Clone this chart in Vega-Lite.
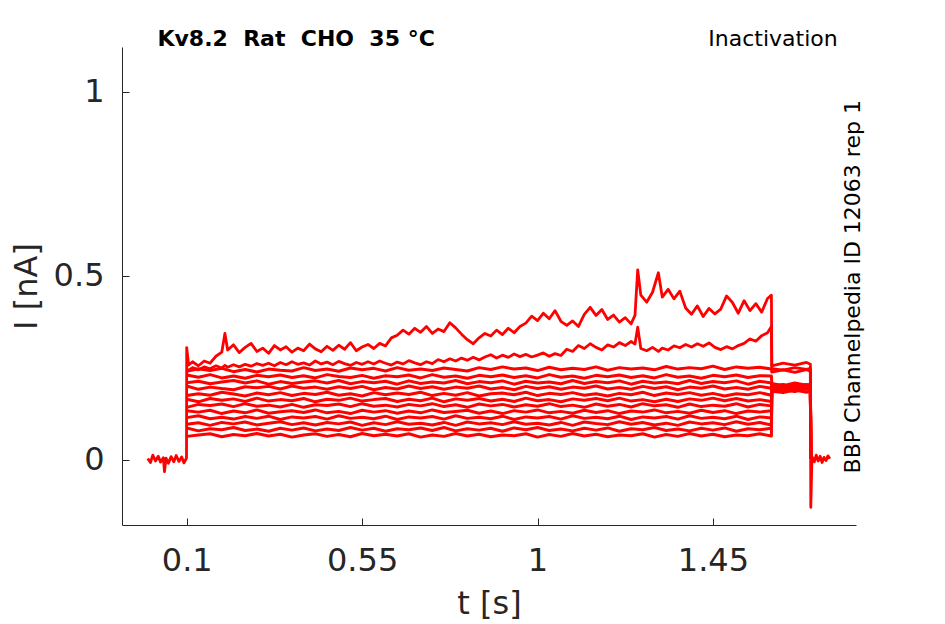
{
  "$schema": "https://vega.github.io/schema/vega-lite/v6.json",
  "width": 734,
  "height": 478,
  "autosize": "none",
  "padding": {"left": 122, "top": 47, "right": 89, "bottom": 99},
  "background": "#ffffff",
  "config": {
    "view": {"stroke": null},
    "font": "DejaVu Sans",
    "axis": {
      "grid": false,
      "labelFont": "DejaVu Sans",
      "titleFont": "DejaVu Sans",
      "labelFontSize": 32,
      "titleFontSize": 32,
      "titleFontWeight": "normal",
      "domainColor": "#262626",
      "tickColor": "#262626",
      "labelColor": "#262626",
      "titleColor": "#262626",
      "domainWidth": 1,
      "tickWidth": 1,
      "tickSize": -7,
      "labelFlush": false,
      "labelOverlap": false,
      "format": ".3~g"
    }
  },
  "datasets": {
    "lo": [
      {"t":0.10,"c":0.240,"d":0.230,"e":0.209,"f":0.200,"g":0.174,"h":0.164,"i":0.142,"j":0.133,"k":0.114,"l":0.096,"m":0.086,"n":0.063},
      {"t":0.13,"c":0.247,"d":0.224,"e":0.213,"f":0.191,"g":0.179,"h":0.157,"i":0.150,"j":0.129,"k":0.119,"l":0.100,"m":0.078,"n":0.067},
      {"t":0.16,"c":0.242,"d":0.231,"e":0.206,"f":0.197,"g":0.175,"h":0.166,"i":0.147,"j":0.134,"k":0.111,"l":0.093,"m":0.084,"n":0.070},
      {"t":0.19,"c":0.248,"d":0.222,"e":0.211,"f":0.193,"g":0.183,"h":0.161,"i":0.151,"j":0.125,"k":0.115,"l":0.101,"m":0.081,"n":0.062},
      {"t":0.22,"c":0.239,"d":0.227,"e":0.215,"f":0.190,"g":0.178,"h":0.165,"i":0.144,"j":0.132,"k":0.110,"l":0.097,"m":0.087,"n":0.068},
      {"t":0.25,"c":0.245,"d":0.221,"e":0.208,"f":0.198,"g":0.173,"h":0.158,"i":0.152,"j":0.127,"k":0.117,"l":0.102,"m":0.079,"n":0.065},
      {"t":0.28,"c":0.238,"d":0.229,"e":0.214,"f":0.195,"g":0.181,"h":0.167,"i":0.145,"j":0.135,"k":0.112,"l":0.094,"m":0.083,"n":0.071},
      {"t":0.31,"c":0.246,"d":0.225,"e":0.205,"f":0.199,"g":0.176,"h":0.159,"i":0.148,"j":0.126,"k":0.118,"l":0.099,"m":0.077,"n":0.064},
      {"t":0.34,"c":0.243,"d":0.230,"e":0.212,"f":0.192,"g":0.182,"h":0.163,"i":0.143,"j":0.130,"k":0.109,"l":0.103,"m":0.085,"n":0.069},
      {"t":0.37,"c":0.241,"d":0.223,"e":0.207,"f":0.200,"g":0.174,"h":0.160,"i":0.150,"j":0.133,"k":0.116,"l":0.095,"m":0.080,"n":0.061},
      {"t":0.40,"c":0.250,"d":0.228,"e":0.211,"f":0.194,"g":0.180,"h":0.166,"i":0.142,"j":0.128,"k":0.113,"l":0.100,"m":0.086,"n":0.067},
      {"t":0.43,"c":0.242,"d":0.222,"e":0.214,"f":0.197,"g":0.177,"h":0.157,"i":0.149,"j":0.135,"k":0.117,"l":0.094,"m":0.078,"n":0.070},
      {"t":0.46,"c":0.246,"d":0.231,"e":0.208,"f":0.191,"g":0.183,"h":0.164,"i":0.147,"j":0.127,"k":0.110,"l":0.101,"m":0.083,"n":0.063},
      {"t":0.49,"c":0.240,"d":0.226,"e":0.215,"f":0.198,"g":0.175,"h":0.161,"i":0.151,"j":0.131,"k":0.119,"l":0.097,"m":0.079,"n":0.068},
      {"t":0.52,"c":0.249,"d":0.223,"e":0.206,"f":0.193,"g":0.179,"h":0.167,"i":0.144,"j":0.125,"k":0.112,"l":0.102,"m":0.087,"n":0.062},
      {"t":0.55,"c":0.244,"d":0.229,"e":0.212,"f":0.199,"g":0.173,"h":0.159,"i":0.152,"j":0.134,"k":0.115,"l":0.093,"m":0.080,"n":0.071},
      {"t":0.58,"c":0.248,"d":0.221,"e":0.209,"f":0.190,"g":0.182,"h":0.163,"i":0.145,"j":0.129,"k":0.111,"l":0.100,"m":0.085,"n":0.065},
      {"t":0.61,"c":0.241,"d":0.228,"e":0.213,"f":0.196,"g":0.176,"h":0.166,"i":0.148,"j":0.133,"k":0.118,"l":0.095,"m":0.077,"n":0.069},
      {"t":0.64,"c":0.250,"d":0.225,"e":0.205,"f":0.192,"g":0.181,"h":0.158,"i":0.143,"j":0.126,"k":0.109,"l":0.103,"m":0.084,"n":0.064},
      {"t":0.67,"c":0.243,"d":0.230,"e":0.214,"f":0.200,"g":0.177,"h":0.164,"i":0.150,"j":0.132,"k":0.116,"l":0.096,"m":0.081,"n":0.070},
      {"t":0.70,"c":0.246,"d":0.222,"e":0.207,"f":0.193,"g":0.183,"h":0.160,"i":0.146,"j":0.127,"k":0.113,"l":0.099,"m":0.086,"n":0.061},
      {"t":0.73,"c":0.242,"d":0.231,"e":0.211,"f":0.198,"g":0.174,"h":0.167,"i":0.152,"j":0.135,"k":0.117,"l":0.094,"m":0.079,"n":0.067},
      {"t":0.76,"c":0.249,"d":0.224,"e":0.208,"f":0.191,"g":0.180,"h":0.157,"i":0.144,"j":0.128,"k":0.110,"l":0.101,"m":0.087,"n":0.063},
      {"t":0.79,"c":0.245,"d":0.227,"e":0.215,"f":0.197,"g":0.175,"h":0.165,"i":0.149,"j":0.131,"k":0.119,"l":0.093,"m":0.078,"n":0.071},
      {"t":0.82,"c":0.241,"d":0.221,"e":0.206,"f":0.194,"g":0.182,"h":0.161,"i":0.142,"j":0.134,"k":0.112,"l":0.102,"m":0.084,"n":0.064},
      {"t":0.85,"c":0.250,"d":0.229,"e":0.212,"f":0.200,"g":0.173,"h":0.166,"i":0.151,"j":0.126,"k":0.115,"l":0.097,"m":0.080,"n":0.069},
      {"t":0.88,"c":0.245,"d":0.225,"e":0.209,"f":0.192,"g":0.179,"h":0.159,"i":0.146,"j":0.132,"k":0.111,"l":0.100,"m":0.085,"n":0.062},
      {"t":0.91,"c":0.252,"d":0.230,"e":0.214,"f":0.196,"g":0.181,"h":0.164,"i":0.150,"j":0.125,"k":0.118,"l":0.095,"m":0.077,"n":0.067},
      {"t":0.94,"c":0.246,"d":0.223,"e":0.205,"f":0.190,"g":0.176,"h":0.158,"i":0.143,"j":0.133,"k":0.109,"l":0.103,"m":0.086,"n":0.065},
      {"t":0.97,"c":0.249,"d":0.228,"e":0.213,"f":0.199,"g":0.183,"h":0.167,"i":0.149,"j":0.129,"k":0.116,"l":0.096,"m":0.081,"n":0.070},
      {"t":1.00,"c":0.242,"d":0.222,"e":0.208,"f":0.193,"g":0.174,"h":0.160,"i":0.145,"j":0.135,"k":0.113,"l":0.099,"m":0.087,"n":0.061},
      {"t":1.03,"c":0.251,"d":0.231,"e":0.211,"f":0.198,"g":0.180,"h":0.163,"i":0.152,"j":0.127,"k":0.117,"l":0.094,"m":0.079,"n":0.068},
      {"t":1.06,"c":0.244,"d":0.224,"e":0.206,"f":0.191,"g":0.177,"h":0.157,"i":0.144,"j":0.131,"k":0.110,"l":0.101,"m":0.083,"n":0.063},
      {"t":1.09,"c":0.248,"d":0.227,"e":0.215,"f":0.197,"g":0.182,"h":0.165,"i":0.148,"j":0.126,"k":0.119,"l":0.093,"m":0.078,"n":0.071},
      {"t":1.12,"c":0.245,"d":0.221,"e":0.207,"f":0.194,"g":0.175,"h":0.161,"i":0.142,"j":0.134,"k":0.112,"l":0.102,"m":0.085,"n":0.064},
      {"t":1.15,"c":0.252,"d":0.229,"e":0.212,"f":0.200,"g":0.179,"h":0.166,"i":0.151,"j":0.128,"k":0.115,"l":0.098,"m":0.080,"n":0.069},
      {"t":1.18,"c":0.243,"d":0.225,"e":0.209,"f":0.192,"g":0.173,"h":0.160,"i":0.145,"j":0.133,"k":0.111,"l":0.095,"m":0.086,"n":0.062},
      {"t":1.21,"c":0.250,"d":0.230,"e":0.214,"f":0.196,"g":0.180,"h":0.167,"i":0.150,"j":0.125,"k":0.118,"l":0.103,"m":0.077,"n":0.067},
      {"t":1.24,"c":0.246,"d":0.223,"e":0.205,"f":0.191,"g":0.176,"h":0.159,"i":0.143,"j":0.132,"k":0.109,"l":0.096,"m":0.084,"n":0.065},
      {"t":1.27,"c":0.249,"d":0.228,"e":0.213,"f":0.199,"g":0.183,"h":0.163,"i":0.152,"j":0.129,"k":0.116,"l":0.101,"m":0.081,"n":0.070},
      {"t":1.30,"c":0.244,"d":0.222,"e":0.208,"f":0.193,"g":0.174,"h":0.157,"i":0.146,"j":0.135,"k":0.113,"l":0.094,"m":0.087,"n":0.061},
      {"t":1.33,"c":0.253,"d":0.231,"e":0.211,"f":0.198,"g":0.181,"h":0.164,"i":0.149,"j":0.127,"k":0.117,"l":0.099,"m":0.079,"n":0.068},
      {"t":1.36,"c":0.246,"d":0.224,"e":0.206,"f":0.190,"g":0.177,"h":0.158,"i":0.142,"j":0.131,"k":0.110,"l":0.093,"m":0.083,"n":0.063},
      {"t":1.39,"c":0.250,"d":0.227,"e":0.215,"f":0.197,"g":0.182,"h":0.165,"i":0.151,"j":0.126,"k":0.119,"l":0.102,"m":0.078,"n":0.071},
      {"t":1.42,"c":0.247,"d":0.221,"e":0.207,"f":0.194,"g":0.175,"h":0.161,"i":0.144,"j":0.134,"k":0.112,"l":0.097,"m":0.085,"n":0.064},
      {"t":1.45,"c":0.254,"d":0.229,"e":0.212,"f":0.200,"g":0.180,"h":0.167,"i":0.148,"j":0.128,"k":0.115,"l":0.100,"m":0.080,"n":0.069},
      {"t":1.48,"c":0.245,"d":0.225,"e":0.209,"f":0.192,"g":0.173,"h":0.160,"i":0.145,"j":0.133,"k":0.111,"l":0.095,"m":0.086,"n":0.062},
      {"t":1.51,"c":0.252,"d":0.230,"e":0.214,"f":0.196,"g":0.179,"h":0.166,"i":0.152,"j":0.125,"k":0.118,"l":0.103,"m":0.077,"n":0.067},
      {"t":1.54,"c":0.248,"d":0.223,"e":0.205,"f":0.191,"g":0.176,"h":0.159,"i":0.143,"j":0.132,"k":0.109,"l":0.096,"m":0.084,"n":0.065},
      {"t":1.57,"c":0.251,"d":0.228,"e":0.213,"f":0.199,"g":0.182,"h":0.163,"i":0.150,"j":0.129,"k":0.116,"l":0.101,"m":0.081,"n":0.070},
      {"t":1.60,"c":0.246,"d":0.227,"e":0.208,"f":0.194,"g":0.175,"h":0.158,"i":0.146,"j":0.133,"k":0.113,"l":0.094,"m":0.085,"n":0.064},
      {"t":1.601,"c":0.238,"d":0.207,"e":0.199,"f":0.194,"g":0.197,"h":0.188,"i":0.205,"j":0.184,"k":0.199,"l":0.200,"m":0.190,"n":0.186},
      {"t":1.63,"c":0.244,"d":0.201,"e":0.203,"f":0.199,"g":0.190,"h":0.195,"i":0.199,"j":0.190,"k":0.192,"l":0.204,"m":0.196,"n":0.182},
      {"t":1.66,"c":0.237,"d":0.208,"e":0.196,"f":0.192,"g":0.198,"h":0.186,"i":0.206,"j":0.185,"k":0.200,"l":0.195,"m":0.189,"n":0.189},
      {"t":1.69,"c":0.245,"d":0.202,"e":0.204,"f":0.201,"g":0.191,"h":0.194,"i":0.200,"j":0.193,"k":0.193,"l":0.203,"m":0.197,"n":0.183},
      {"t":1.70,"c":0.240,"d":0.205,"e":0.200,"f":0.196,"g":0.194,"h":0.191,"i":0.202,"j":0.189,"k":0.196,"l":0.199,"m":0.193,"n":0.186},
      {"t":1.701,"c":0.003,"d":0.004,"e":0.002,"f":0.003,"g":0.005,"h":0.002,"i":0.004,"j":0.003,"k":0.002,"l":0.004,"m":0.003,"n":0.005}
    ],
    "hi": [
      {"t":0,"a":0.003},{"t":0.007,"a":-0.008},{"t":0.013,"a":0.012},{"t":0.02,"a":-0.004},
      {"t":0.027,"a":0.009},{"t":0.033,"a":-0.007},{"t":0.04,"a":0.005},{"t":0.043,"a":-0.033},
      {"t":0.047,"a":0.004},{"t":0.053,"a":-0.01},{"t":0.06,"a":0.008},{"t":0.067,"a":-0.006},
      {"t":0.073,"a":0.011},{"t":0.08,"a":-0.005},{"t":0.087,"a":0.007},{"t":0.093,"a":-0.009},
      {"t":0.0995,"a":0.004},
      {"t":0.100,"a":0.304,"b":0.246},{"t":0.105,"a":0.257,"b":0.243},{"t":0.115,"a":0.266,"b":0.250},
      {"t":0.130,"a":0.255,"b":0.244},{"t":0.145,"a":0.268,"b":0.252},{"t":0.160,"a":0.262,"b":0.247},
      {"t":0.175,"a":0.281,"b":0.255},{"t":0.190,"a":0.292,"b":0.249},{"t":0.198,"a":0.343,"b":0.256},
      {"t":0.205,"a":0.298,"b":0.251},{"t":0.220,"a":0.312,"b":0.258},{"t":0.235,"a":0.291,"b":0.252},
      {"t":0.250,"a":0.305,"b":0.259},{"t":0.265,"a":0.316,"b":0.254},{"t":0.280,"a":0.294,"b":0.261},
      {"t":0.295,"a":0.303,"b":0.256},{"t":0.310,"a":0.289,"b":0.262},{"t":0.325,"a":0.310,"b":0.255},
      {"t":0.340,"a":0.298,"b":0.264},{"t":0.355,"a":0.307,"b":0.258},{"t":0.370,"a":0.292,"b":0.266},
      {"t":0.385,"a":0.303,"b":0.259},{"t":0.400,"a":0.296,"b":0.263},{"t":0.415,"a":0.314,"b":0.257},
      {"t":0.430,"a":0.301,"b":0.268},{"t":0.445,"a":0.293,"b":0.260},{"t":0.460,"a":0.308,"b":0.265},
      {"t":0.475,"a":0.297,"b":0.258},{"t":0.490,"a":0.311,"b":0.267},{"t":0.505,"a":0.300,"b":0.261},
      {"t":0.520,"a":0.318,"b":0.256},{"t":0.535,"a":0.296,"b":0.264},{"t":0.550,"a":0.306,"b":0.259},
      {"t":0.565,"a":0.313,"b":0.266},{"t":0.580,"a":0.302,"b":0.260},{"t":0.595,"a":0.316,"b":0.268},
      {"t":0.610,"a":0.309,"b":0.262},{"t":0.625,"a":0.331,"b":0.257},{"t":0.640,"a":0.338,"b":0.265},
      {"t":0.655,"a":0.352,"b":0.260},{"t":0.670,"a":0.341,"b":0.269},{"t":0.685,"a":0.357,"b":0.263},
      {"t":0.700,"a":0.346,"b":0.258},{"t":0.715,"a":0.362,"b":0.266},{"t":0.730,"a":0.343,"b":0.261},
      {"t":0.745,"a":0.355,"b":0.272},{"t":0.760,"a":0.348,"b":0.266},{"t":0.775,"a":0.372,"b":0.274},
      {"t":0.790,"a":0.358,"b":0.268},{"t":0.805,"a":0.341,"b":0.276},{"t":0.820,"a":0.326,"b":0.270},
      {"t":0.835,"a":0.315,"b":0.278},{"t":0.850,"a":0.331,"b":0.271},{"t":0.865,"a":0.343,"b":0.279},
      {"t":0.880,"a":0.336,"b":0.285},{"t":0.895,"a":0.352,"b":0.276},{"t":0.910,"a":0.340,"b":0.284},
      {"t":0.925,"a":0.357,"b":0.278},{"t":0.940,"a":0.345,"b":0.287},{"t":0.955,"a":0.362,"b":0.280},
      {"t":0.970,"a":0.371,"b":0.286},{"t":0.985,"a":0.390,"b":0.279},{"t":1.000,"a":0.378,"b":0.284},
      {"t":1.015,"a":0.398,"b":0.290},{"t":1.030,"a":0.383,"b":0.281},{"t":1.045,"a":0.405,"b":0.288},
      {"t":1.060,"a":0.376,"b":0.283},{"t":1.075,"a":0.365,"b":0.300},{"t":1.090,"a":0.377,"b":0.294},
      {"t":1.105,"a":0.362,"b":0.310},{"t":1.120,"a":0.395,"b":0.302},{"t":1.135,"a":0.414,"b":0.315},
      {"t":1.150,"a":0.392,"b":0.305},{"t":1.165,"a":0.408,"b":0.298},{"t":1.180,"a":0.381,"b":0.312},
      {"t":1.195,"a":0.393,"b":0.306},{"t":1.210,"a":0.374,"b":0.318},{"t":1.225,"a":0.386,"b":0.310},
      {"t":1.240,"a":0.369,"b":0.321},{"t":1.250,"a":0.392,"b":0.314},{"t":1.257,"a":0.516,"b":0.360},
      {"t":1.265,"a":0.447,"b":0.302},{"t":1.280,"a":0.428,"b":0.296},{"t":1.295,"a":0.455,"b":0.305},
      {"t":1.310,"a":0.508,"b":0.294},{"t":1.320,"a":0.442,"b":0.303},{"t":1.335,"a":0.463,"b":0.298},
      {"t":1.350,"a":0.437,"b":0.309},{"t":1.365,"a":0.458,"b":0.304},{"t":1.380,"a":0.412,"b":0.313},
      {"t":1.395,"a":0.395,"b":0.306},{"t":1.410,"a":0.418,"b":0.315},{"t":1.425,"a":0.389,"b":0.308},
      {"t":1.440,"a":0.411,"b":0.317},{"t":1.455,"a":0.396,"b":0.305},{"t":1.470,"a":0.409,"b":0.299},
      {"t":1.485,"a":0.445,"b":0.307},{"t":1.500,"a":0.427,"b":0.301},{"t":1.515,"a":0.398,"b":0.310},
      {"t":1.530,"a":0.432,"b":0.316},{"t":1.545,"a":0.405,"b":0.328},{"t":1.560,"a":0.424,"b":0.322},
      {"t":1.575,"a":0.401,"b":0.337},{"t":1.590,"a":0.438,"b":0.345},{"t":1.600,"a":0.447,"b":0.362},
      {"t":1.601,"a":0.255,"b":0.247},{"t":1.630,"a":0.262,"b":0.243},{"t":1.660,"a":0.257,"b":0.250},
      {"t":1.690,"a":0.264,"b":0.245},{"t":1.700,"a":0.259,"b":0.248},{"t":1.701,"a":-0.13,"b":0.003},
      {"t":1.704,"a":0.008},{"t":1.71,"a":-0.006},{"t":1.715,"a":0.012},{"t":1.72,"a":-0.004},
      {"t":1.725,"a":0.009},{"t":1.73,"a":-0.008},{"t":1.735,"a":0.006},{"t":1.74,"a":-0.003},
      {"t":1.745,"a":0.01},{"t":1.75,"a":0.002}
    ]
  },
  "encoding": {
    "x": {
      "field": "t",
      "type": "quantitative",
      "scale": {"domain": [-0.066, 1.817], "nice": false, "zero": false},
      "axis": {"title": "t [s]", "values": [0.1, 0.55, 1, 1.45], "labelPadding": 27, "titlePadding": 12}
    },
    "y": {
      "field": "i",
      "type": "quantitative",
      "scale": {"domain": [-0.178, 1.122], "nice": false, "zero": false},
      "axis": {"title": "I [nA]", "values": [0, 0.5, 1], "labelPadding": 25, "titlePadding": 10}
    }
  },
  "layer": [
    {
      "data": {"name": "lo"},
      "transform": [
        {"fold": ["c", "d", "e", "f", "g", "h", "i", "j", "k", "l", "m", "n"], "as": ["s", "i"]},
        {"filter": "isValid(datum.i)"}
      ],
      "mark": {"type": "line", "color": "#ff0000", "strokeWidth": 3, "strokeJoin": "round"},
      "encoding": {"detail": {"field": "s"}}
    },
    {
      "data": {"name": "hi"},
      "transform": [
        {"fold": ["a", "b"], "as": ["s", "i"]},
        {"filter": "isValid(datum.i)"}
      ],
      "mark": {"type": "line", "color": "#ff0000", "strokeWidth": 2.8, "strokeJoin": "round"},
      "encoding": {"detail": {"field": "s"}}
    },
    {
      "data": {"values": [{"t": 0.025, "i": 1.124, "label": "Kv8.2\u00a0 Rat\u00a0 CHO\u00a0 35 °C"}]},
      "mark": {"type": "text", "align": "left", "baseline": "alphabetic", "fontSize": 22, "fontWeight": "bold", "color": "#000000", "font": "DejaVu Sans"},
      "encoding": {"text": {"field": "label"}}
    },
    {
      "data": {"values": [{"t": 1.770, "i": 1.124, "label": "Inactivation"}]},
      "mark": {"type": "text", "align": "right", "baseline": "alphabetic", "fontSize": 22, "color": "#000000", "font": "DejaVu Sans"},
      "encoding": {"text": {"field": "label"}}
    },
    {
      "data": {"values": [{"t": 1.8275, "i": 0.470, "label": "BBP Channelpedia ID 12063 rep 1"}]},
      "mark": {"type": "text", "align": "center", "baseline": "alphabetic", "angle": 270, "fontSize": 22, "color": "#000000", "font": "DejaVu Sans"},
      "encoding": {"text": {"field": "label"}}
    }
  ]
}
